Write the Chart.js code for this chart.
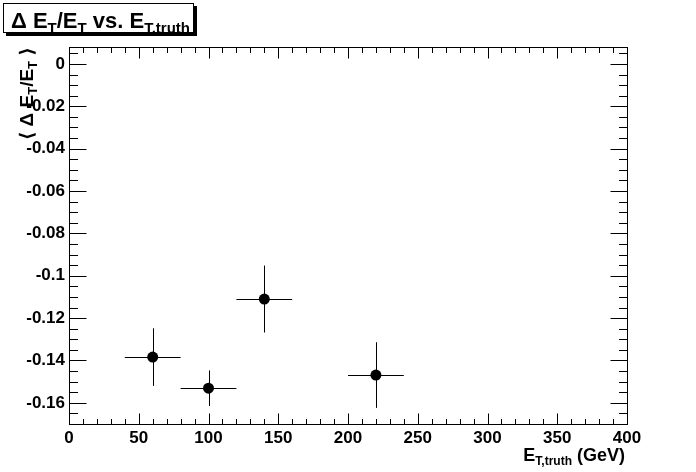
<!DOCTYPE html>
<html>
<head>
<meta charset="utf-8">
<script src="https://cdn.jsdelivr.net/npm/chart.js@4"></script>
<style>
  html, body { margin: 0; padding: 0; background: #fff; }
  #c { display: block; }
</style>
</head>
<body>
<canvas id="c" width="696" height="472"></canvas>
<script>
// данные: средний сдвиг dE/E в зависимости от E_T,truth
const energies = [60, 100, 140, 220];
const energyErr = [20, 20, 20, 20];
const meanRes = [-0.1384, -0.1531, -0.1110, -0.1469];
const meanResErr = [0.0136, 0.0084, 0.0158, 0.0155];

// деления осей
const xTicks = [0, 50, 100, 150, 200, 250, 300, 350, 400];
const yTicks = [0, -0.02, -0.04, -0.06, -0.08, -0.1, -0.12, -0.14, -0.16];

const FONT = "'Liberation Sans', Arial, 'DejaVu Sans', sans-serif";

// текст с нижними индексами
function drawRich(ctx, parts, x, y, align) {
  let total = 0;
  parts.forEach(p => {
    ctx.font = 'bold ' + p[1] + 'px ' + FONT;
    total += ctx.measureText(p[0]).width;
  });
  let cx = align === 'right' ? x - total : x;
  ctx.textAlign = 'left';
  ctx.textBaseline = 'alphabetic';
  parts.forEach(p => {
    ctx.font = 'bold ' + p[1] + 'px ' + FONT;
    ctx.fillText(p[0], cx, y + p[2]);
    cx += ctx.measureText(p[0]).width;
  });
}

// рамка, засечки в стиле ROOT, погрешности и подписи
const rootStyle = {
  id: 'rootStyle',
  beforeDraw(chart) {
    const ctx = chart.ctx;
    ctx.save();
    ctx.fillStyle = '#fff';
    ctx.fillRect(0, 0, chart.width, chart.height);
    ctx.restore();
  },
  beforeDatasetsDraw(chart) {
    const ctx = chart.ctx;
    const xs = chart.scales.x, ys = chart.scales.y;
    ctx.save();
    ctx.strokeStyle = '#000';
    ctx.lineWidth = 1;
    ctx.beginPath();
    energies.forEach((e, i) => {
      const px = Math.round(xs.getPixelForValue(e)) + 0.5;
      const py = Math.round(ys.getPixelForValue(meanRes[i])) + 0.5;
      ctx.moveTo(xs.getPixelForValue(e - energyErr[i]), py);
      ctx.lineTo(xs.getPixelForValue(e + energyErr[i]), py);
      ctx.moveTo(px, ys.getPixelForValue(meanRes[i] + meanResErr[i]));
      ctx.lineTo(px, ys.getPixelForValue(meanRes[i] - meanResErr[i]));
    });
    ctx.stroke();
    ctx.restore();
  },
  afterDraw(chart) {
    const ctx = chart.ctx;
    const a = chart.chartArea;
    const xs = chart.scales.x, ys = chart.scales.y;
    const L = Math.round(a.left) + 0.5, R = Math.round(a.right) + 0.5;
    const T = Math.round(a.top) + 0.5, B = Math.round(a.bottom) + 0.5;
    ctx.save();
    ctx.strokeStyle = '#000';
    ctx.lineWidth = 1;
    ctx.strokeRect(L, T, R - L, B - T);

    ctx.beginPath();
    // засечки по X: каждые 10, крупные каждые 50
    for (let v = 0; v <= 400; v += 10) {
      const px = Math.round(xs.getPixelForValue(v)) + 0.5;
      const len = v % 50 === 0 ? 11 : 5.5;
      ctx.moveTo(px, B); ctx.lineTo(px, B - len);
      ctx.moveTo(px, T); ctx.lineTo(px, T + len);
    }
    // засечки по Y: каждые 0.005, крупные каждые 0.02
    for (let k = -34; k <= 1; k++) {
      const v = k * 0.005;
      const py = Math.round(ys.getPixelForValue(v)) + 0.5;
      const len = k % 4 === 0 ? 17 : 8.5;
      ctx.moveTo(L, py); ctx.lineTo(L + len, py);
      ctx.moveTo(R, py); ctx.lineTo(R - len, py);
    }
    ctx.stroke();

    ctx.fillStyle = '#000';
    // подпись оси X
    drawRich(ctx, [['E', 18, 0], ['T,truth', 12, 4], [' (GeV)', 18, 0]], 625, 461, 'right');

    // подпись оси Y (повернута)
    ctx.save();
    ctx.translate(33, 47);
    ctx.rotate(-Math.PI / 2);
    drawRich(ctx, [['\u27E8 \u0394 E', 19, 0], ['T', 13, 4], ['/E', 19, 0], ['T', 13, 4], [' \u27E9', 19, 0]], 0, 0, 'right');
    ctx.restore();

    // заголовок в рамке с тенью
    ctx.fillRect(6, 6, 191, 30);
    ctx.fillStyle = '#fff';
    ctx.fillRect(3, 3, 191, 30);
    ctx.strokeRect(3.5, 3.5, 190, 29);
    ctx.fillStyle = '#000';
    drawRich(ctx, [['\u0394 E', 22, 0], ['T', 15, 5], ['/E', 22, 0], ['T', 15, 5], [' vs. E', 22, 0], ['T,truth', 15, 5]], 11, 28, 'left');
    ctx.restore();
  }
};

const labelFont = { family: FONT, size: 17, weight: 'bold' };

new Chart(document.getElementById('c'), {
  type: 'scatter',
  data: {
    datasets: [{
      data: energies.map((e, i) => ({ x: e, y: meanRes[i] })),
      pointRadius: 5.5,
      pointHoverRadius: 5.5,
      pointBackgroundColor: '#000',
      pointBorderColor: '#000',
      pointBorderWidth: 0,
      showLine: false
    }]
  },
  options: {
    responsive: false,
    animation: false,
    devicePixelRatio: 1,
    layout: { padding: { top: 47, right: 69, left: 0, bottom: 0 } },
    plugins: { legend: { display: false }, tooltip: { enabled: false }, title: { display: false } },
    scales: {
      x: {
        type: 'linear',
        min: 0, max: 400,
        grid: { display: false, drawTicks: false },
        border: { display: false },
        afterBuildTicks: s => { s.ticks = xTicks.map(v => ({ value: v })); },
        afterFit: s => { s.height = 48; },
        ticks: { font: labelFont, color: '#000', padding: 4, maxRotation: 0, autoSkip: false }
      },
      y: {
        type: 'linear',
        min: -0.17, max: 0.008,
        grid: { display: false, drawTicks: false },
        border: { display: false },
        afterBuildTicks: s => { s.ticks = yTicks.map(v => ({ value: v })); },
        afterFit: s => { s.width = 69; },
        ticks: {
          font: labelFont, color: '#000', padding: 4, autoSkip: false,
          callback: v => String(parseFloat(v.toFixed(3)))
        }
      }
    }
  },
  plugins: [rootStyle]
});
</script>
</body>
</html>
